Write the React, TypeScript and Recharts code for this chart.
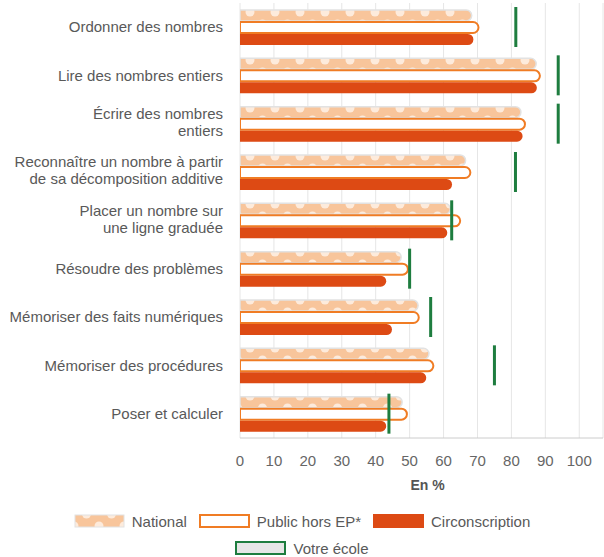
import React from "react";
import { Bar, BarChart, CartesianGrid, XAxis, YAxis } from "recharts";

const categoryLines = [
  ["Ordonner des nombres"],
  ["Lire des nombres entiers"],
  ["Écrire des nombres", "entiers"],
  ["Reconnaître un nombre à partir", "de sa décomposition additive"],
  ["Placer un nombre sur", "une ligne graduée"],
  ["Résoudre des problèmes"],
  ["Mémoriser des faits numériques"],
  ["Mémoriser des procédures"],
  ["Poser et calculer"],
];
const national = [68.3, 87.3, 82.8, 66.5, 62, 47.5, 52.5, 55.7, 47.8];
const publicHorsEP = [70.3, 88.4, 84, 67.9, 64.9, 49.5, 52.7, 57, 49.2];
const circonscription = [68.8, 87.5, 83.3, 62.5, 61.1, 43.1, 44.8, 54.9, 43.1];
const votreEcole = [81.3, 93.8, 93.8, 81.2, 62.4, 50, 56.2, 75, 43.9];
const xTicks = [0, 10, 20, 30, 40, 50, 60, 70, 80, 90, 100];

const FONT = "'Liberation Sans', Arial, sans-serif";
const TEXT = "#595959";
const NAT_FILL = "#f8c59b";
const PUB_STROKE = "#f07c24";
const CIRCO = "#dd4a14";
const GREEN = "#1e7d3f";

const data = categoryLines.map((lines, i) => ({
  name: lines.join("\n"),
  national: national[i],
  publicHorsEP: publicHorsEP[i],
  circonscription: circonscription[i],
  ecole: votreEcole[i],
}));

function CategoryTick({ x, y, payload }: any) {
  const lines = String(payload.value).split("\n");
  const lh = 17;
  const start = y - ((lines.length - 1) * lh) / 2 - (lines.length > 1 ? 1.5 : 0);
  return (
    <text x={x} y={start} textAnchor="end" fill={TEXT} fontSize={15} fontFamily={FONT}>
      {lines.map((l, i) => (
        <tspan key={i} x={x} y={start + i * lh} dy="0.35em">
          {l}
        </tspan>
      ))}
    </text>
  );
}

function EcoleMarker({ x, y, width, height }: any) {
  return <rect x={x + width - 1.5} y={y} width={3} height={height} fill={GREEN} />;
}

function Swatch({ kind }: { kind: string }) {
  let rect;
  if (kind === "national") rect = <rect x={1} y={1} width={49} height={12} fill="url(#natPat)" stroke="#e2e2e2" strokeWidth={1} />;
  else if (kind === "public") rect = <rect x={1} y={1} width={49} height={12} fill="#fff" stroke={PUB_STROKE} strokeWidth={2} />;
  else if (kind === "circo") rect = <rect x={0} y={0} width={51} height={14} fill={CIRCO} />;
  else rect = <rect x={1} y={1} width={49} height={12} fill="#e6e6e6" stroke={GREEN} strokeWidth={2} />;
  return (
    <svg width={51} height={14} style={{ display: "block" }}>
      {rect}
    </svg>
  );
}

const legendRows = [
  [
    { kind: "national", label: "National" },
    { kind: "public", label: "Public hors EP*" },
    { kind: "circo", label: "Circonscription" },
  ],
  [{ kind: "ecole", label: "Votre école" }],
];

export default function App() {
  return (
    <div style={{ position: "absolute", left: 0, top: 0, width: 604, height: 557, fontFamily: FONT, background: "#fff" }}>
      <svg width={0} height={0} style={{ position: "absolute" }}>
        <defs>
          <pattern id="natPat" patternUnits="userSpaceOnUse" width={25} height={24}>
            <rect width={25} height={24} fill={NAT_FILL} />
            <circle cx={0} cy={12} r={4.5} fill="#fdebdc" />
            <circle cx={25} cy={12} r={4.5} fill="#fdebdc" />
            <circle cx={12.5} cy={0} r={4.5} fill="#fdebdc" />
            <circle cx={12.5} cy={24} r={4.5} fill="#fdebdc" />
          </pattern>
        </defs>
      </svg>
      <BarChart
        width={604}
        height={557}
        data={data}
        layout="vertical"
        margin={{ top: 3, right: 1, left: 0, bottom: 59 }}
        barSize={11}
        barGap={1}
      >
        <CartesianGrid horizontal={false} stroke="#e6e6e6" />
        <XAxis
          type="number"
          domain={[0, 107]}
          ticks={xTicks}
          allowDataOverflow
          axisLine={{ stroke: "#cccccc" }}
          tickLine={false}
          tickMargin={11}
          tick={{ fill: "#666", fontSize: 15, fontFamily: FONT }}
          height={60}
          label={{ value: "En %", position: "insideTop", offset: 42, fill: "#555", fontSize: 14, fontWeight: "bold", dx: 6 }}
        />
        <YAxis
          type="category"
          dataKey="name"
          width={240}
          axisLine={false}
          tickLine={false}
          tickMargin={11}
          tick={<CategoryTick />}
          interval={0}
        />
        <YAxis yAxisId="ecole" type="category" dataKey="name" hide />
        <Bar dataKey="national" fill="url(#natPat)" stroke="#e2e2e2" strokeWidth={1.5} radius={[0, 6, 6, 0]} isAnimationActive={false} />
        <Bar dataKey="publicHorsEP" fill="#ffffff" stroke={PUB_STROKE} strokeWidth={2} radius={[0, 6, 6, 0]} isAnimationActive={false} />
        <Bar dataKey="circonscription" fill={CIRCO} radius={[0, 6, 6, 0]} isAnimationActive={false} />
        <Bar yAxisId="ecole" dataKey="ecole" barSize={40} fill={GREEN} shape={<EcoleMarker />} isAnimationActive={false} />
      </BarChart>
      <div style={{ position: "absolute", left: 0, top: 511, width: 604 }}>
        {legendRows.map((row, r) => (
          <div key={r} style={{ display: "flex", justifyContent: "center", alignItems: "center", height: 20, marginBottom: r === 0 ? 7 : 0 }}>
            {row.map((item) => (
              <div key={item.kind} style={{ display: "flex", alignItems: "center", marginLeft: 6, marginRight: 6 }}>
                <Swatch kind={item.kind} />
                <span style={{ marginLeft: 7, fontSize: 15, color: TEXT }}>{item.label}</span>
              </div>
            ))}
          </div>
        ))}
      </div>
    </div>
  );
}
